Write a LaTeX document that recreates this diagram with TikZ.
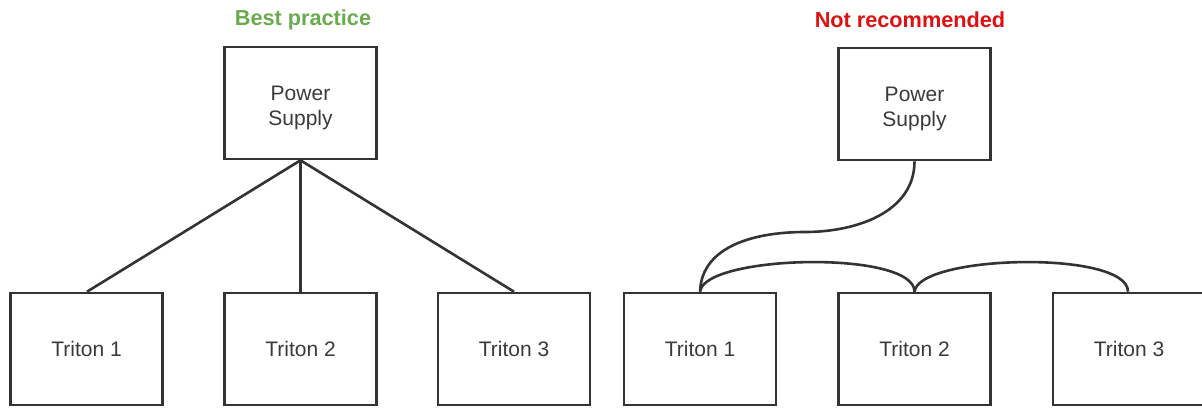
\documentclass[tikz,border=0pt]{standalone}
\usepackage{fontspec}
\setmainfont{Liberation Sans}
\definecolor{linec}{HTML}{333333}
\definecolor{textc}{HTML}{3A3A3A}
\definecolor{goodc}{HTML}{6AAB4E}
\definecolor{badc}{HTML}{DD1111}
\tikzset{
  box/.style={draw=linec, line width=2.6pt, rectangle, minimum width=152pt, minimum height=112pt,
    inner sep=0pt, text=textc, align=center, font=\fontsize{21}{25}\selectfont},
  wire/.style={draw=linec, line width=2.6pt},
  title/.style={font=\fontsize{21.7}{25}\selectfont\bfseries, inner sep=0pt}
}
\begin{document}
\begin{tikzpicture}[x=1pt,y=-1pt]
\useasboundingbox (0,0) rectangle (1202,408);
\clip (0,0) rectangle (1202,408);
% left: best practice
\node[title, text=goodc] (t1) at (303,20) {Best practice};
\node[box] (psA) at (300.5,103) {\rule{0pt}{24pt}Power\\Supply};
\node[box] (a1) at (86.5,349) {Triton 1};
\node[box] (a2) at (300.5,349) {Triton 2};
\node[box] (a3) at (514,349) {Triton 3};
\coordinate (a1t) at ([xshift=0.5pt]a1.north);
\coordinate (a3t) at ([xshift=0pt]a3.north);
\draw[wire] (psA.south) -- (a1t);
\draw[wire] (psA.south) -- (a2.north);
\draw[wire] (psA.south) -- (a3t);
% right: not recommended
\node[title, text=badc] (t2) at (910,20) {Not recommended};
\node[box] (psB) at (914.5,104) {\rule{0pt}{24pt}Power\\Supply};
\node[box] (b1) at (700,349) {Triton 1};
\node[box] (b2) at (914.5,349) {Triton 2};
\node[box] (b3) at (1129,349) {Triton 3};
\coordinate (mid) at (805,232);
\draw[wire] (psB.south) to[out=-90,in=0] (mid) to[out=180,in=88] (b1.north);
\draw[wire] (b1.north) .. controls ([xshift=4pt,yshift=37pt]b1.north) and ([yshift=42pt]b2.north) .. (b2.north);
\draw[wire] (b2.north) .. controls ([xshift=4pt,yshift=37pt]b2.north) and ([xshift=-1pt,yshift=42pt]b3.north) .. ([xshift=-1pt]b3.north);
\end{tikzpicture}
\end{document}
